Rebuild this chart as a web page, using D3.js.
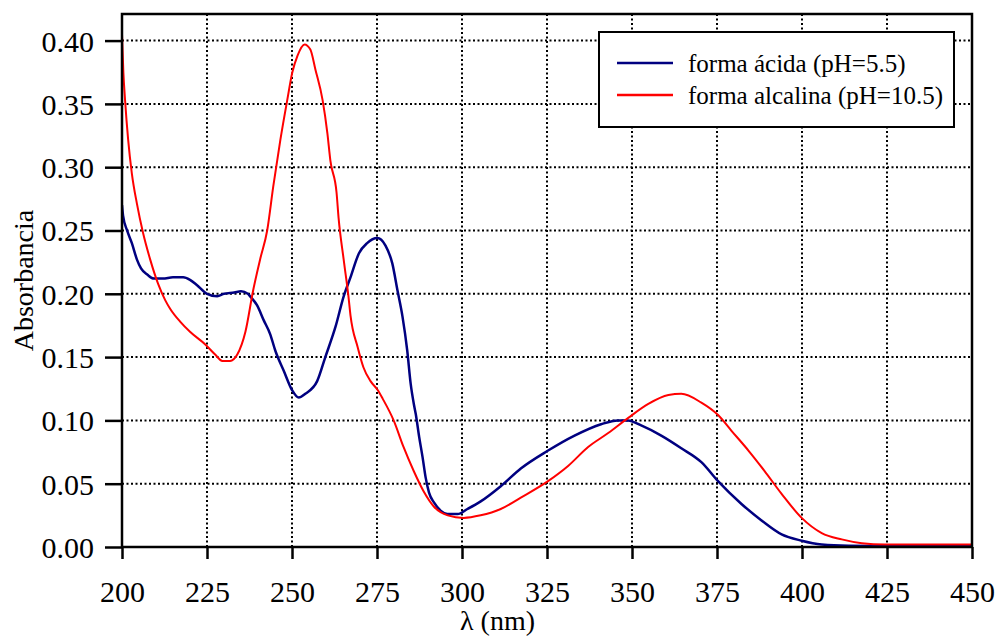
<!DOCTYPE html>
<html>
<head>
<meta charset="utf-8">
<script src="https://cdn.jsdelivr.net/npm/d3@7"></script>
<style>
  html, body { margin: 0; padding: 0; background: #fff; }
  svg { display: block; font-family: "Liberation Serif", "Times New Roman", serif; }
</style>
</head>
<body>
<svg id="chart" width="995" height="637"></svg>
<script>
// ---- data ----
const xTicks = [200, 225, 250, 275, 300, 325, 350, 375, 400, 425, 450];
const yTicks = [0.00, 0.05, 0.10, 0.15, 0.20, 0.25, 0.30, 0.35, 0.40];
const seriesNames = ["forma ácida (pH=5.5)", "forma alcalina (pH=10.5)"];
const seriesColors = ["#000080", "#ff0000"];

const acidNm  = [200, 200.3, 201.5, 202.9, 204.4, 205.6, 207.5, 209.4, 212, 215, 218, 220, 222, 225, 228, 230, 233, 235, 237, 237.7, 239.7, 241.7, 243.6, 245.1, 247.6, 250.0, 252.0, 253.9, 257.4, 259.8, 262.8, 265.2, 267.2, 269.7, 272.1, 275.1, 277.5, 279.5, 281.0, 282.5, 283.9, 284.9, 285.9, 286.4, 287.4, 288.4, 289.3, 290.3, 291.8, 293.8, 295.7, 298.7, 301.6, 305.5, 311.4, 317.3, 325.2, 333.1, 340.9, 345.8, 348.8, 352.7, 358.6, 364.5, 370.4, 375.3, 382.2, 388.1, 394.0, 399.9, 405.8, 413.7, 425, 450];
const acidAbs = [0.270, 0.262, 0.250, 0.240, 0.227, 0.220, 0.215, 0.212, 0.212, 0.213, 0.213, 0.211, 0.207, 0.200, 0.198, 0.200, 0.201, 0.202, 0.200, 0.198, 0.191, 0.179, 0.168, 0.155, 0.139, 0.124, 0.118, 0.121, 0.131, 0.150, 0.174, 0.198, 0.213, 0.232, 0.240, 0.244, 0.238, 0.224, 0.203, 0.182, 0.155, 0.129, 0.112, 0.105, 0.087, 0.071, 0.055, 0.043, 0.035, 0.0285, 0.026, 0.026, 0.030, 0.036, 0.048, 0.062, 0.076, 0.088, 0.097, 0.100, 0.100, 0.096, 0.088, 0.078, 0.067, 0.052, 0.034, 0.021, 0.010, 0.005, 0.002, 0.001, 0.0008, 0.0008];

const alkNm  = [200, 200.4, 200.9, 201.8, 202.9, 204.4, 206.2, 208.3, 210.6, 212.7, 214.2, 217.1, 220.0, 224.5, 227.4, 229.5, 231.8, 233.9, 236.3, 238.6, 240.7, 242.7, 244.5, 246.6, 248.6, 250.1, 251.6, 253.7, 255.4, 256.9, 259.0, 260.4, 261.3, 263.1, 263.7, 265.2, 266.6, 267.2, 269.3, 271.0, 273.1, 275.2, 276.7, 279.9, 282.8, 285.8, 288.7, 291.7, 295.8, 300.5, 305.5, 311.4, 317.3, 325.3, 331.2, 337.1, 343.0, 348.9, 354.8, 360.7, 364.5, 370.4, 375.4, 379.2, 384.3, 389.0, 394.0, 399.9, 405.8, 411.7, 417.6, 424.4, 450];
const alkAbs = [0.405, 0.375, 0.353, 0.322, 0.295, 0.271, 0.248, 0.227, 0.208, 0.195, 0.188, 0.178, 0.170, 0.160, 0.152, 0.147, 0.147, 0.152, 0.170, 0.203, 0.228, 0.250, 0.285, 0.322, 0.353, 0.375, 0.388, 0.397, 0.393, 0.377, 0.353, 0.327, 0.305, 0.280, 0.260, 0.227, 0.198, 0.183, 0.158, 0.142, 0.131, 0.124, 0.117, 0.100, 0.079, 0.060, 0.044, 0.032, 0.025, 0.023, 0.025, 0.030, 0.039, 0.052, 0.064, 0.079, 0.090, 0.102, 0.113, 0.120, 0.121, 0.114, 0.104, 0.092, 0.076, 0.060, 0.042, 0.023, 0.011, 0.006, 0.003, 0.002, 0.002];

// ---- layout ----
const W = 995, H = 637;
const m = { left: 122, right: 23, top: 14, bottom: 90 };
const iw = W - m.left - m.right, ih = H - m.top - m.bottom;

const svg = d3.select("#chart");
const x = d3.scaleLinear().domain([200, 450]).range([m.left, m.left + iw]);
const y = d3.scaleLinear().domain([0, 0.421]).range([m.top + ih, m.top]);

// grid
const grid = svg.append("g").attr("stroke", "#000").attr("stroke-width", 2).attr("stroke-dasharray", "2,2.5");
grid.selectAll("line.v").data(xTicks.slice(1, -1)).join("line")
  .attr("x1", d => x(d)).attr("x2", d => x(d)).attr("y1", m.top).attr("y2", m.top + ih);
grid.selectAll("line.h").data(yTicks.slice(1)).join("line")
  .attr("y1", d => y(d)).attr("y2", d => y(d)).attr("x1", m.left).attr("x2", m.left + iw);

// clip
svg.append("clipPath").attr("id", "clip").append("rect")
  .attr("x", m.left).attr("y", m.top).attr("width", iw).attr("height", ih);

const line = d3.line().x(d => x(d[0])).y(d => y(d[1])).curve(d3.curveMonotoneX);
const series = [
  d3.zip(acidNm, acidAbs),
  d3.zip(alkNm, alkAbs)
];
const widths = [2.5, 2];
svg.append("g").attr("clip-path", "url(#clip)")
  .selectAll("path").data(series).join("path")
  .attr("d", line).attr("fill", "none")
  .attr("stroke", (d, i) => seriesColors[i])
  .attr("stroke-width", (d, i) => widths[i])
  .attr("stroke-linejoin", "round");

// axes
const xAxis = svg.append("g").attr("transform", `translate(0,${m.top + ih})`)
  .call(d3.axisBottom(x).tickValues(xTicks).tickFormat(d3.format("d")).tickSize(12).tickSizeOuter(0));
xAxis.selectAll("text").attr("y", 55).attr("dy", 0);
const yAxis = svg.append("g").attr("transform", `translate(${m.left},0)`)
  .call(d3.axisLeft(y).tickValues(yTicks).tickFormat(d3.format(".2f")).tickSize(17).tickSizeOuter(0));
yAxis.selectAll("text").attr("x", -28).attr("dy", "0.35em");
[xAxis, yAxis].forEach(a => {
  a.select(".domain").remove();
  a.selectAll("line").attr("stroke", "#000").attr("stroke-width", 2.5);
  a.selectAll("text").attr("fill", "#000").attr("font-size", 30)
    .attr("font-family", "'Liberation Serif', 'Times New Roman', serif");
});

// frame
svg.append("rect").attr("x", m.left).attr("y", m.top).attr("width", iw).attr("height", ih)
  .attr("fill", "none").attr("stroke", "#000").attr("stroke-width", 2.5);

// axis titles
svg.append("text").attr("x", W / 2).attr("y", 630).attr("text-anchor", "middle")
  .attr("font-size", 28).text("λ (nm)");
svg.append("text").attr("transform", `translate(33,${m.top + ih / 2}) rotate(-90)`)
  .attr("text-anchor", "middle").attr("font-size", 28).text("Absorbancia");

// legend
const lg = svg.append("g");
lg.append("rect").attr("x", 599).attr("y", 32).attr("width", 355).attr("height", 95)
  .attr("fill", "#fff").attr("stroke", "#000").attr("stroke-width", 2);
const ly = [63, 95];
seriesNames.forEach((name, i) => {
  lg.append("line").attr("x1", 617).attr("x2", 673).attr("y1", ly[i]).attr("y2", ly[i])
    .attr("stroke", seriesColors[i]).attr("stroke-width", 2.5);
  lg.append("text").attr("x", 688).attr("y", ly[i] + 9).attr("font-size", 25).text(name);
});
</script>
</body>
</html>
